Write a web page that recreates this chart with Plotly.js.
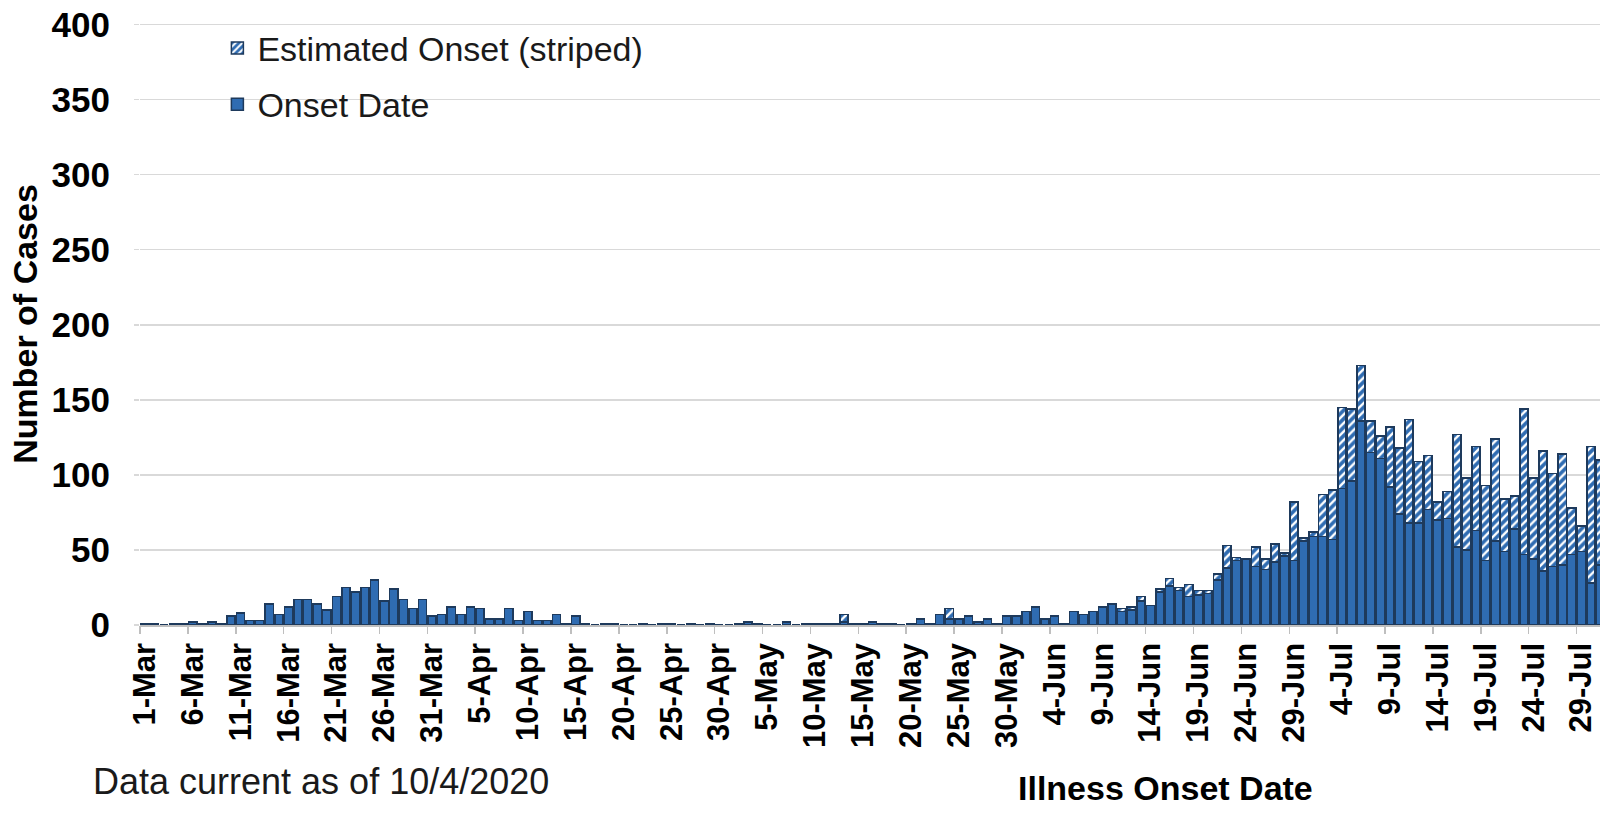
<!DOCTYPE html>
<html>
<head>
<meta charset="utf-8">
<script src="https://cdn.plot.ly/plotly-3.0.1.min.js"></script>
<style>
  html, body { margin: 0; padding: 0; background: #ffffff; }
  #chart { width: 1600px; height: 835px; }
</style>
</head>
<body>
<div id="chart"></div>
<script>
// ---- Data ----
const startDate = '2020-03-01';

// Cases with a known onset date, one value per day starting 1-Mar
const onsetDate = [
  1, 1, 0, 1, 1, 2, 1, 2, 1, 6,      // 1-Mar .. 10-Mar
  8, 3, 3, 14, 7, 12, 17, 17, 14, 10, // 11-Mar .. 20-Mar
  19, 25, 22, 25, 30, 16, 24, 17, 11, 17, // 21-Mar .. 30-Mar
  6, 7, 12, 7, 12, 11, 4, 4, 11, 3,   // 31-Mar .. 9-Apr
  9, 3, 3, 7, 1, 6, 1, 0, 1, 1,       // 10-Apr .. 19-Apr
  0, 0, 1, 0, 1, 1, 0, 1, 0, 1,       // 20-Apr .. 29-Apr
  0, 0, 1, 2, 1, 0, 0, 2, 0, 1,       // 30-Apr .. 9-May
  1, 1, 1, 2, 1, 1, 2, 1, 1, 0,       // 10-May .. 19-May
  1, 4, 1, 7, 4, 4, 6, 2, 4, 1,       // 20-May .. 29-May
  6, 6, 9, 12, 4, 6, 1, 9, 7, 9,      // 30-May .. 8-Jun
  12, 14, 9, 10, 16, 13, 22, 26, 23, 19, // 9-Jun .. 18-Jun
  20, 21, 30, 38, 43, 44, 39, 37, 42, 46, // 19-Jun .. 28-Jun
  43, 56, 59, 59, 57, 91, 96, 136, 115, 111, // 29-Jun .. 8-Jul
  92, 74, 68, 68, 77, 70, 71, 52, 50, 63,    // 9-Jul .. 18-Jul
  43, 56, 49, 64, 47, 44, 36, 39, 40, 47,    // 19-Jul .. 28-Jul
  49, 28, 40                                  // 29-Jul .. 31-Jul
];

// Cases with an estimated onset date (striped), same days
const estimatedOnset = [
  0, 0, 0, 0, 0, 0, 0, 0, 0, 0,
  0, 0, 0, 0, 0, 0, 0, 0, 0, 0,
  0, 0, 0, 0, 0, 0, 0, 0, 0, 0,
  0, 0, 0, 0, 0, 0, 0, 0, 0, 0,
  0, 0, 0, 0, 0, 0, 0, 0, 0, 0,
  0, 0, 0, 0, 0, 0, 0, 0, 0, 0,
  0, 0, 0, 0, 0, 0, 0, 0, 0, 0,
  0, 0, 0, 5, 0, 0, 0, 0, 0, 0,
  0, 0, 0, 0, 7, 0, 0, 0, 0, 0,
  0, 0, 0, 0, 0, 0, 0, 0, 0, 0,
  0, 0, 2, 2, 3, 0, 2, 5, 2, 8,
  3, 2, 4, 15, 2, 0, 13, 7, 12, 2,
  39, 2, 3, 28, 33, 54, 48, 37, 21, 15,
  40, 44, 69, 41, 36, 12, 18, 75, 48, 56,
  50, 68, 35, 22, 97, 54, 80, 62, 74, 31,
  17, 91, 70
];

const seriesNames = ['Onset Date', 'Estimated Onset (striped)'];
const yTicks = [0, 50, 100, 150, 200, 250, 300, 350, 400];

// Build the day categories from the start date
function buildDates(start, n) {
  const p = start.split('-').map(Number);
  const out = [];
  for (let i = 0; i < n; i++) {
    const d = new Date(Date.UTC(p[0], p[1] - 1, p[2] + i));
    out.push(d.toISOString().slice(0, 10));
  }
  return out;
}
const days = buildDates(startDate, onsetDate.length);

// ---- Styling ----
const BLUE = '#2f6cb2';
const EDGE = '#1e3a5c';
const FONT = 'Liberation Sans, Arial, sans-serif';
const DAY = 86400000;

const traces = [
  {
    type: 'bar',
    name: seriesNames[0],
    x: days,
    y: onsetDate,
    legendgroup: 'onset',
    legendrank: 2,
    marker: { color: BLUE, line: { color: EDGE, width: 1.5 } },
    hoverinfo: 'x+y+name'
  },
  {
    type: 'bar',
    name: seriesNames[1],
    x: days,
    y: estimatedOnset,
    legendgroup: 'est',
    legendrank: 1,
    marker: {
      color: BLUE,
      line: { color: EDGE, width: 1.5 },
      pattern: { shape: '/', fgcolor: '#ffffff', bgcolor: BLUE, size: 6, solidity: 0.4, fillmode: 'replace' }
    },
    hoverinfo: 'x+y+name'
  }
];

const xRange = ['2020-02-29 12:00', '2020-07-30 22:40'];

const layout = {
  width: 1600,
  height: 835,
  margin: { l: 140, r: 0, t: 23, b: 210, pad: 0 },
  paper_bgcolor: '#ffffff',
  plot_bgcolor: '#ffffff',
  barmode: 'stack',
  bargap: 0.15,
  font: { family: FONT, color: '#000000' },
  showlegend: true,
  legend: {
    x: 0.053, y: 1.006, xanchor: 'left', yanchor: 'top',
    bgcolor: 'rgba(0,0,0,0)',
    font: { family: FONT, size: 34, color: '#1a1a1a' },
    traceorder: 'grouped',
    tracegroupgap: 9
  },
  xaxis: {
    type: 'date',
    range: xRange,
    tick0: startDate,
    dtick: 5 * DAY,
    tickformat: '%-d-%b',
    tickangle: -90,
    ticks: '',
    ticklabelstandoff: 4,
    tickfont: { family: FONT, size: 31, weight: 'bold', color: '#000000' },
    showgrid: false,
    showline: true,
    linecolor: '#bfbfbf',
    linewidth: 1.5,
    zeroline: false,
    fixedrange: true
  },
  xaxis2: {
    type: 'date',
    overlaying: 'x',
    anchor: 'y',
    side: 'bottom',
    range: xRange,
    tick0: '2020-02-29 12:00',
    dtick: 5 * DAY,
    ticks: 'outside',
    ticklen: 8,
    tickwidth: 1.5,
    tickcolor: '#bfbfbf',
    showticklabels: false,
    showgrid: false,
    showline: false,
    zeroline: false,
    fixedrange: true
  },
  yaxis: {
    range: [0, 401],
    tickvals: yTicks,
    ticks: 'outside',
    ticklen: 5,
    tickcolor: '#d9d9d9',
    tickwidth: 1.5,
    ticklabelstandoff: 17,
    tickfont: { family: FONT, size: 35, weight: 'bold', color: '#000000' },
    showgrid: true,
    gridcolor: '#d9d9d9',
    gridwidth: 1.5,
    zeroline: false,
    showline: false,
    fixedrange: true,
    title: {
      text: 'Number of Cases',
      font: { family: FONT, size: 34, weight: 'bold', color: '#000000' },
      standoff: 3
    }
  },
  annotations: [
    {
      text: 'Data current as of 10/4/2020',
      xref: 'paper', yref: 'paper',
      x: (91 - 140) / 1460, y: -(781 - 625) / 602,
      xanchor: 'left', yanchor: 'middle',
      showarrow: false,
      font: { family: FONT, size: 36, color: '#1a1a1a' }
    },
    {
      text: 'Illness Onset Date',
      xref: 'paper', yref: 'paper',
      x: (1165 - 140) / 1460, y: -(788 - 625) / 602,
      xanchor: 'center', yanchor: 'middle',
      showarrow: false,
      font: { family: FONT, size: 34, weight: 'bold', color: '#000000' }
    }
  ]
};

// invisible helper so the boundary tick axis is drawn
traces.push({
  type: 'scatter', x: [], y: [], xaxis: 'x2', yaxis: 'y',
  showlegend: false, hoverinfo: 'skip'
});

Plotly.newPlot('chart', traces, layout, { staticPlot: true, displayModeBar: false });
</script>
</body>
</html>
